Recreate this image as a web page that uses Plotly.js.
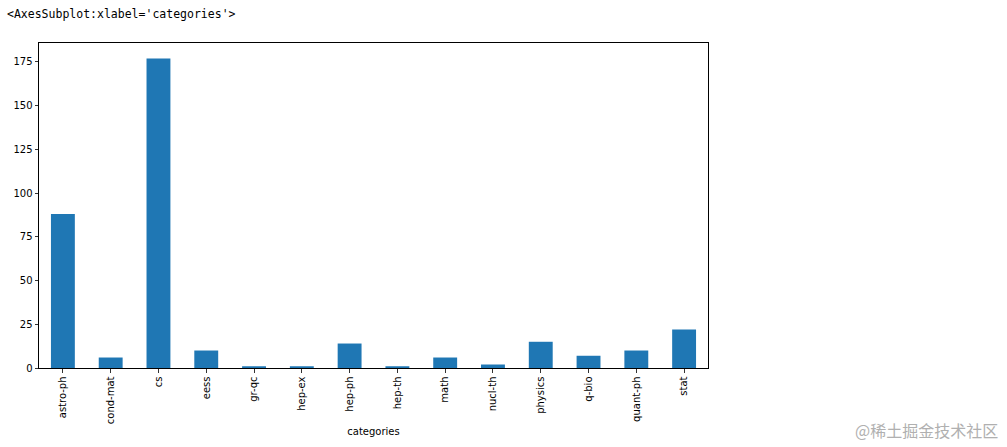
<!DOCTYPE html>
<html>
<head>
<meta charset="utf-8">
<script src="https://cdn.plot.ly/plotly-3.0.1.min.js"></script>
<style>html,body{margin:0;padding:0;background:#fff;}#chart{width:1007px;height:447px;}</style>
</head>
<body>
<div id="chart"></div>
<script>
const categories = ["astro-ph","cond-mat","cs","eess","gr-qc","hep-ex","hep-ph","hep-th","math","nucl-th","physics","q-bio","quant-ph","stat"];
const counts = [88, 6, 177, 10, 1, 1, 14, 1, 6, 2, 15, 7, 10, 22];
const yTicks = [0, 25, 50, 75, 100, 125, 150, 175];
const headerText = "<AxesSubplot:xlabel='categories'>";
const xLabel = "categories";
const watermark = "@稀土掘金技术社区";

const maxVal = Math.max(...counts);
const trace = {
  type: "bar",
  x: categories,
  y: counts,
  marker: {color: "#1f77b4", line: {width: 0}},
  hoverinfo: "x+y"
};
const tickFont = {family: "DejaVu Sans, sans-serif", size: 10, color: "#000"};
const layout = {
  width: 1007, height: 447,
  margin: {l: 39, r: 299, t: 43, b: 79, pad: 0},
  paper_bgcolor: "#fff", plot_bgcolor: "#fff",
  showlegend: false,
  bargap: 0.5,
  xaxis: {
    type: "category",
    range: [-0.5, categories.length - 0.5],
    tickangle: -90,
    ticks: "outside", ticklen: 3.5, tickwidth: 0.8, tickcolor: "#000",
    showline: true, linecolor: "#000", linewidth: 1, mirror: true,
    showgrid: false, zeroline: false,
    tickfont: tickFont,
    automargin: false,
    title: {text: xLabel, font: tickFont, standoff: 4}
  },
  yaxis: {
    range: [0, maxVal * 1.05],
    tickvals: yTicks, ticktext: yTicks.map(String),
    ticks: "outside", ticklen: 3.5, tickwidth: 0.8, tickcolor: "#000",
    showline: true, linecolor: "#000", linewidth: 1, mirror: true,
    showgrid: false, zeroline: false,
    tickfont: tickFont,
    automargin: false
  },
  annotations: [
    {text: headerText, xref: "paper", yref: "paper", x: -34/669, y: 1 + 29/325,
     xanchor: "left", yanchor: "middle", showarrow: false,
     font: {family: "DejaVu Sans Mono, monospace", size: 11.5, color: "#000"}},
    {text: watermark, xref: "paper", yref: "paper", x: (1000-39)/669, y: -(430-368)/325,
     xanchor: "right", yanchor: "middle", showarrow: false,
     font: {family: "Noto Sans CJK SC, sans-serif", size: 16, color: "#b0b0b0"}}
  ]
};
Plotly.newPlot("chart", [trace], layout, {staticPlot: true, displayModeBar: false});
</script>
</body>
</html>
